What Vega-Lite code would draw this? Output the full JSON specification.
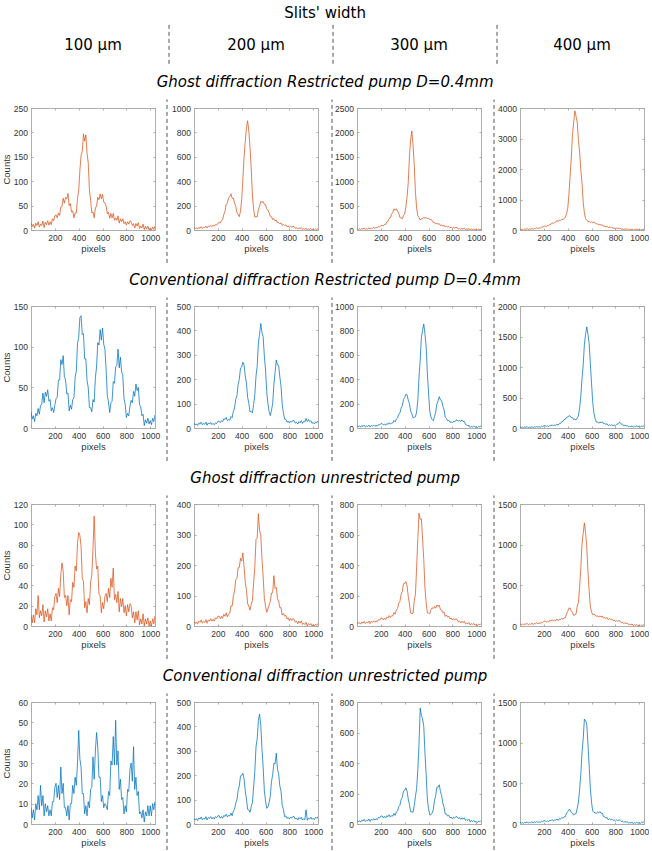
{
  "$schema": "https://vega.github.io/schema/vega-lite/v6.json",
  "background": "white",
  "padding": {"left": 1, "right": 0, "top": 6, "bottom": 0},
  "title": {"text": "Slits' width", "fontStyle": "normal", "offset": 2},
  "spacing": 8,
  "vconcat": [
    {
      "spacing": 0, "bounds": "flush",
      "hconcat": [
        {"width": 124, "height": 43, "view": {"stroke": null}, "data": {"values": [{"t": "100 µm"}]}, "mark": {"type": "text", "font": "DejaVu Sans", "fontSize": 15, "color": "#000000"}, "encoding": {"text": {"field": "t"}}},
        {"width": 39, "height": 43, "view": {"stroke": null}, "data": {"values": [{}]}, "mark": {"type": "rule", "color": "#555555", "strokeWidth": 1, "strokeDash": [4, 3]}, "encoding": {"x": {"datum": 14, "type": "quantitative", "scale": {"domain": [0, 39]}, "axis": null}, "y": {"datum": 0.05, "type": "quantitative", "scale": {"domain": [0, 1]}, "axis": null}, "y2": {"datum": 0.98}}},
        {"width": 124, "height": 43, "view": {"stroke": null}, "data": {"values": [{"t": "200 µm"}]}, "mark": {"type": "text", "font": "DejaVu Sans", "fontSize": 15, "color": "#000000"}, "encoding": {"text": {"field": "t"}}},
        {"width": 39, "height": 43, "view": {"stroke": null}, "data": {"values": [{}]}, "mark": {"type": "rule", "color": "#555555", "strokeWidth": 1, "strokeDash": [4, 3]}, "encoding": {"x": {"datum": 15, "type": "quantitative", "scale": {"domain": [0, 39]}, "axis": null}, "y": {"datum": 0.05, "type": "quantitative", "scale": {"domain": [0, 1]}, "axis": null}, "y2": {"datum": 0.98}}},
        {"width": 124, "height": 43, "view": {"stroke": null}, "data": {"values": [{"t": "300 µm"}]}, "mark": {"type": "text", "font": "DejaVu Sans", "fontSize": 15, "color": "#000000"}, "encoding": {"text": {"field": "t"}}},
        {"width": 39, "height": 43, "view": {"stroke": null}, "data": {"values": [{}]}, "mark": {"type": "rule", "color": "#555555", "strokeWidth": 1, "strokeDash": [4, 3]}, "encoding": {"x": {"datum": 16, "type": "quantitative", "scale": {"domain": [0, 39]}, "axis": null}, "y": {"datum": 0.05, "type": "quantitative", "scale": {"domain": [0, 1]}, "axis": null}, "y2": {"datum": 0.98}}},
        {"width": 124, "height": 43, "view": {"stroke": null}, "data": {"values": [{"t": "400 µm"}]}, "mark": {"type": "text", "font": "DejaVu Sans", "fontSize": 15, "color": "#000000"}, "encoding": {"text": {"field": "t"}}}
      ]
    },
    {
      "title": {"text": "Ghost diffraction Restricted pump D=0.4mm", "fontStyle": "italic"},
      "spacing": 0, "bounds": "flush",
      "hconcat": [
        {"width": 124, "height": 122, "data": {"name": "a1"}, "layer": [
          {"mark": {"type": "line", "color": "#D95319", "strokeWidth": 0.75, "clip": true}, "encoding": {"x": {"field": "x", "type": "quantitative", "scale": {"domain": [0, 1040], "nice": false}, "axis": {"values": [200, 400, 600, 800, 1000], "title": "pixels"}}, "y": {"field": "y", "type": "quantitative", "scale": {"domain": [0, 250], "nice": false}, "axis": {"values": [0, 50, 100, 150, 200, 250], "title": "Counts", "minExtent": 18, "maxExtent": 18}}}},
          {"mark": {"type": "line", "opacity": 0}, "encoding": {"x": {"field": "x", "type": "quantitative", "axis": {"orient": "top", "values": [200, 400, 600, 800, 1000], "labels": false, "title": null}}, "y": {"field": "y", "type": "quantitative", "axis": {"orient": "right", "values": [0, 50, 100, 150, 200, 250], "labels": false, "title": null}}}}
        ], "resolve": {"axis": {"x": "independent", "y": "independent"}}},
        {"width": 39, "height": 122, "view": {"stroke": null}, "data": {"values": [{}]}, "mark": {"type": "rule", "color": "#555555", "strokeWidth": 1, "strokeDash": [4, 3]}, "encoding": {"x": {"datum": 12, "type": "quantitative", "scale": {"domain": [0, 39]}, "axis": null}, "y": {"datum": -0.27, "type": "quantitative", "scale": {"domain": [0, 1]}, "axis": null}, "y2": {"datum": 1.07}}},
        {"width": 124, "height": 122, "data": {"name": "a2"}, "layer": [
          {"mark": {"type": "line", "color": "#D95319", "strokeWidth": 0.75, "clip": true}, "encoding": {"x": {"field": "x", "type": "quantitative", "scale": {"domain": [0, 1040], "nice": false}, "axis": {"values": [200, 400, 600, 800, 1000], "title": "pixels"}}, "y": {"field": "y", "type": "quantitative", "scale": {"domain": [0, 1000], "nice": false}, "axis": {"values": [0, 200, 400, 600, 800, 1000], "title": null}}}},
          {"mark": {"type": "line", "opacity": 0}, "encoding": {"x": {"field": "x", "type": "quantitative", "axis": {"orient": "top", "values": [200, 400, 600, 800, 1000], "labels": false, "title": null}}, "y": {"field": "y", "type": "quantitative", "axis": {"orient": "right", "values": [0, 200, 400, 600, 800, 1000], "labels": false, "title": null}}}}
        ], "resolve": {"axis": {"x": "independent", "y": "independent"}}},
        {"width": 39, "height": 122, "view": {"stroke": null}, "data": {"values": [{}]}, "mark": {"type": "rule", "color": "#555555", "strokeWidth": 1, "strokeDash": [4, 3]}, "encoding": {"x": {"datum": 14, "type": "quantitative", "scale": {"domain": [0, 39]}, "axis": null}, "y": {"datum": -0.27, "type": "quantitative", "scale": {"domain": [0, 1]}, "axis": null}, "y2": {"datum": 1.07}}},
        {"width": 124, "height": 122, "data": {"name": "a3"}, "layer": [
          {"mark": {"type": "line", "color": "#D95319", "strokeWidth": 0.75, "clip": true}, "encoding": {"x": {"field": "x", "type": "quantitative", "scale": {"domain": [0, 1040], "nice": false}, "axis": {"values": [200, 400, 600, 800, 1000], "title": "pixels"}}, "y": {"field": "y", "type": "quantitative", "scale": {"domain": [0, 2500], "nice": false}, "axis": {"values": [0, 500, 1000, 1500, 2000, 2500], "title": null}}}},
          {"mark": {"type": "line", "opacity": 0}, "encoding": {"x": {"field": "x", "type": "quantitative", "axis": {"orient": "top", "values": [200, 400, 600, 800, 1000], "labels": false, "title": null}}, "y": {"field": "y", "type": "quantitative", "axis": {"orient": "right", "values": [0, 500, 1000, 1500, 2000, 2500], "labels": false, "title": null}}}}
        ], "resolve": {"axis": {"x": "independent", "y": "independent"}}},
        {"width": 39, "height": 122, "view": {"stroke": null}, "data": {"values": [{}]}, "mark": {"type": "rule", "color": "#555555", "strokeWidth": 1, "strokeDash": [4, 3]}, "encoding": {"x": {"datum": 13, "type": "quantitative", "scale": {"domain": [0, 39]}, "axis": null}, "y": {"datum": -0.27, "type": "quantitative", "scale": {"domain": [0, 1]}, "axis": null}, "y2": {"datum": 1.07}}},
        {"width": 124, "height": 122, "data": {"name": "a4"}, "layer": [
          {"mark": {"type": "line", "color": "#D95319", "strokeWidth": 0.75, "clip": true}, "encoding": {"x": {"field": "x", "type": "quantitative", "scale": {"domain": [0, 1040], "nice": false}, "axis": {"values": [200, 400, 600, 800, 1000], "title": "pixels"}}, "y": {"field": "y", "type": "quantitative", "scale": {"domain": [0, 4000], "nice": false}, "axis": {"values": [0, 1000, 2000, 3000, 4000], "title": null}}}},
          {"mark": {"type": "line", "opacity": 0}, "encoding": {"x": {"field": "x", "type": "quantitative", "axis": {"orient": "top", "values": [200, 400, 600, 800, 1000], "labels": false, "title": null}}, "y": {"field": "y", "type": "quantitative", "axis": {"orient": "right", "values": [0, 1000, 2000, 3000, 4000], "labels": false, "title": null}}}}
        ], "resolve": {"axis": {"x": "independent", "y": "independent"}}}
      ]
    },
    {
      "title": {"text": "Conventional diffraction Restricted pump D=0.4mm", "fontStyle": "italic"},
      "spacing": 0, "bounds": "flush",
      "hconcat": [
        {"width": 124, "height": 122, "data": {"name": "b1"}, "layer": [
          {"mark": {"type": "line", "color": "#0072BD", "strokeWidth": 0.75, "clip": true}, "encoding": {"x": {"field": "x", "type": "quantitative", "scale": {"domain": [0, 1040], "nice": false}, "axis": {"values": [200, 400, 600, 800, 1000], "title": "pixels"}}, "y": {"field": "y", "type": "quantitative", "scale": {"domain": [0, 150], "nice": false}, "axis": {"values": [0, 50, 100, 150], "title": "Counts", "minExtent": 18, "maxExtent": 18}}}},
          {"mark": {"type": "line", "opacity": 0}, "encoding": {"x": {"field": "x", "type": "quantitative", "axis": {"orient": "top", "values": [200, 400, 600, 800, 1000], "labels": false, "title": null}}, "y": {"field": "y", "type": "quantitative", "axis": {"orient": "right", "values": [0, 50, 100, 150], "labels": false, "title": null}}}}
        ], "resolve": {"axis": {"x": "independent", "y": "independent"}}},
        {"width": 39, "height": 122, "view": {"stroke": null}, "data": {"values": [{}]}, "mark": {"type": "rule", "color": "#555555", "strokeWidth": 1, "strokeDash": [4, 3]}, "encoding": {"x": {"datum": 12, "type": "quantitative", "scale": {"domain": [0, 39]}, "axis": null}, "y": {"datum": -0.27, "type": "quantitative", "scale": {"domain": [0, 1]}, "axis": null}, "y2": {"datum": 1.07}}},
        {"width": 124, "height": 122, "data": {"name": "b2"}, "layer": [
          {"mark": {"type": "line", "color": "#0072BD", "strokeWidth": 0.75, "clip": true}, "encoding": {"x": {"field": "x", "type": "quantitative", "scale": {"domain": [0, 1040], "nice": false}, "axis": {"values": [200, 400, 600, 800, 1000], "title": "pixels"}}, "y": {"field": "y", "type": "quantitative", "scale": {"domain": [0, 500], "nice": false}, "axis": {"values": [0, 100, 200, 300, 400, 500], "title": null}}}},
          {"mark": {"type": "line", "opacity": 0}, "encoding": {"x": {"field": "x", "type": "quantitative", "axis": {"orient": "top", "values": [200, 400, 600, 800, 1000], "labels": false, "title": null}}, "y": {"field": "y", "type": "quantitative", "axis": {"orient": "right", "values": [0, 100, 200, 300, 400, 500], "labels": false, "title": null}}}}
        ], "resolve": {"axis": {"x": "independent", "y": "independent"}}},
        {"width": 39, "height": 122, "view": {"stroke": null}, "data": {"values": [{}]}, "mark": {"type": "rule", "color": "#555555", "strokeWidth": 1, "strokeDash": [4, 3]}, "encoding": {"x": {"datum": 14, "type": "quantitative", "scale": {"domain": [0, 39]}, "axis": null}, "y": {"datum": -0.27, "type": "quantitative", "scale": {"domain": [0, 1]}, "axis": null}, "y2": {"datum": 1.07}}},
        {"width": 124, "height": 122, "data": {"name": "b3"}, "layer": [
          {"mark": {"type": "line", "color": "#0072BD", "strokeWidth": 0.75, "clip": true}, "encoding": {"x": {"field": "x", "type": "quantitative", "scale": {"domain": [0, 1040], "nice": false}, "axis": {"values": [200, 400, 600, 800, 1000], "title": "pixels"}}, "y": {"field": "y", "type": "quantitative", "scale": {"domain": [0, 1000], "nice": false}, "axis": {"values": [0, 200, 400, 600, 800, 1000], "title": null}}}},
          {"mark": {"type": "line", "opacity": 0}, "encoding": {"x": {"field": "x", "type": "quantitative", "axis": {"orient": "top", "values": [200, 400, 600, 800, 1000], "labels": false, "title": null}}, "y": {"field": "y", "type": "quantitative", "axis": {"orient": "right", "values": [0, 200, 400, 600, 800, 1000], "labels": false, "title": null}}}}
        ], "resolve": {"axis": {"x": "independent", "y": "independent"}}},
        {"width": 39, "height": 122, "view": {"stroke": null}, "data": {"values": [{}]}, "mark": {"type": "rule", "color": "#555555", "strokeWidth": 1, "strokeDash": [4, 3]}, "encoding": {"x": {"datum": 13, "type": "quantitative", "scale": {"domain": [0, 39]}, "axis": null}, "y": {"datum": -0.27, "type": "quantitative", "scale": {"domain": [0, 1]}, "axis": null}, "y2": {"datum": 1.07}}},
        {"width": 124, "height": 122, "data": {"name": "b4"}, "layer": [
          {"mark": {"type": "line", "color": "#0072BD", "strokeWidth": 0.75, "clip": true}, "encoding": {"x": {"field": "x", "type": "quantitative", "scale": {"domain": [0, 1040], "nice": false}, "axis": {"values": [200, 400, 600, 800, 1000], "title": "pixels"}}, "y": {"field": "y", "type": "quantitative", "scale": {"domain": [0, 2000], "nice": false}, "axis": {"values": [0, 500, 1000, 1500, 2000], "title": null}}}},
          {"mark": {"type": "line", "opacity": 0}, "encoding": {"x": {"field": "x", "type": "quantitative", "axis": {"orient": "top", "values": [200, 400, 600, 800, 1000], "labels": false, "title": null}}, "y": {"field": "y", "type": "quantitative", "axis": {"orient": "right", "values": [0, 500, 1000, 1500, 2000], "labels": false, "title": null}}}}
        ], "resolve": {"axis": {"x": "independent", "y": "independent"}}}
      ]
    },
    {
      "title": {"text": "Ghost diffraction unrestricted pump", "fontStyle": "italic"},
      "spacing": 0, "bounds": "flush",
      "hconcat": [
        {"width": 124, "height": 122, "data": {"name": "c1"}, "layer": [
          {"mark": {"type": "line", "color": "#D95319", "strokeWidth": 0.75, "clip": true}, "encoding": {"x": {"field": "x", "type": "quantitative", "scale": {"domain": [0, 1040], "nice": false}, "axis": {"values": [200, 400, 600, 800, 1000], "title": "pixels"}}, "y": {"field": "y", "type": "quantitative", "scale": {"domain": [0, 120], "nice": false}, "axis": {"values": [0, 20, 40, 60, 80, 100, 120], "title": "Counts", "minExtent": 18, "maxExtent": 18}}}},
          {"mark": {"type": "line", "opacity": 0}, "encoding": {"x": {"field": "x", "type": "quantitative", "axis": {"orient": "top", "values": [200, 400, 600, 800, 1000], "labels": false, "title": null}}, "y": {"field": "y", "type": "quantitative", "axis": {"orient": "right", "values": [0, 20, 40, 60, 80, 100, 120], "labels": false, "title": null}}}}
        ], "resolve": {"axis": {"x": "independent", "y": "independent"}}},
        {"width": 39, "height": 122, "view": {"stroke": null}, "data": {"values": [{}]}, "mark": {"type": "rule", "color": "#555555", "strokeWidth": 1, "strokeDash": [4, 3]}, "encoding": {"x": {"datum": 12, "type": "quantitative", "scale": {"domain": [0, 39]}, "axis": null}, "y": {"datum": -0.27, "type": "quantitative", "scale": {"domain": [0, 1]}, "axis": null}, "y2": {"datum": 1.07}}},
        {"width": 124, "height": 122, "data": {"name": "c2"}, "layer": [
          {"mark": {"type": "line", "color": "#D95319", "strokeWidth": 0.75, "clip": true}, "encoding": {"x": {"field": "x", "type": "quantitative", "scale": {"domain": [0, 1040], "nice": false}, "axis": {"values": [200, 400, 600, 800, 1000], "title": "pixels"}}, "y": {"field": "y", "type": "quantitative", "scale": {"domain": [0, 400], "nice": false}, "axis": {"values": [0, 100, 200, 300, 400], "title": null}}}},
          {"mark": {"type": "line", "opacity": 0}, "encoding": {"x": {"field": "x", "type": "quantitative", "axis": {"orient": "top", "values": [200, 400, 600, 800, 1000], "labels": false, "title": null}}, "y": {"field": "y", "type": "quantitative", "axis": {"orient": "right", "values": [0, 100, 200, 300, 400], "labels": false, "title": null}}}}
        ], "resolve": {"axis": {"x": "independent", "y": "independent"}}},
        {"width": 39, "height": 122, "view": {"stroke": null}, "data": {"values": [{}]}, "mark": {"type": "rule", "color": "#555555", "strokeWidth": 1, "strokeDash": [4, 3]}, "encoding": {"x": {"datum": 14, "type": "quantitative", "scale": {"domain": [0, 39]}, "axis": null}, "y": {"datum": -0.27, "type": "quantitative", "scale": {"domain": [0, 1]}, "axis": null}, "y2": {"datum": 1.07}}},
        {"width": 124, "height": 122, "data": {"name": "c3"}, "layer": [
          {"mark": {"type": "line", "color": "#D95319", "strokeWidth": 0.75, "clip": true}, "encoding": {"x": {"field": "x", "type": "quantitative", "scale": {"domain": [0, 1040], "nice": false}, "axis": {"values": [200, 400, 600, 800, 1000], "title": "pixels"}}, "y": {"field": "y", "type": "quantitative", "scale": {"domain": [0, 800], "nice": false}, "axis": {"values": [0, 200, 400, 600, 800], "title": null}}}},
          {"mark": {"type": "line", "opacity": 0}, "encoding": {"x": {"field": "x", "type": "quantitative", "axis": {"orient": "top", "values": [200, 400, 600, 800, 1000], "labels": false, "title": null}}, "y": {"field": "y", "type": "quantitative", "axis": {"orient": "right", "values": [0, 200, 400, 600, 800], "labels": false, "title": null}}}}
        ], "resolve": {"axis": {"x": "independent", "y": "independent"}}},
        {"width": 39, "height": 122, "view": {"stroke": null}, "data": {"values": [{}]}, "mark": {"type": "rule", "color": "#555555", "strokeWidth": 1, "strokeDash": [4, 3]}, "encoding": {"x": {"datum": 13, "type": "quantitative", "scale": {"domain": [0, 39]}, "axis": null}, "y": {"datum": -0.27, "type": "quantitative", "scale": {"domain": [0, 1]}, "axis": null}, "y2": {"datum": 1.07}}},
        {"width": 124, "height": 122, "data": {"name": "c4"}, "layer": [
          {"mark": {"type": "line", "color": "#D95319", "strokeWidth": 0.75, "clip": true}, "encoding": {"x": {"field": "x", "type": "quantitative", "scale": {"domain": [0, 1040], "nice": false}, "axis": {"values": [200, 400, 600, 800, 1000], "title": "pixels"}}, "y": {"field": "y", "type": "quantitative", "scale": {"domain": [0, 1500], "nice": false}, "axis": {"values": [0, 500, 1000, 1500], "title": null}}}},
          {"mark": {"type": "line", "opacity": 0}, "encoding": {"x": {"field": "x", "type": "quantitative", "axis": {"orient": "top", "values": [200, 400, 600, 800, 1000], "labels": false, "title": null}}, "y": {"field": "y", "type": "quantitative", "axis": {"orient": "right", "values": [0, 500, 1000, 1500], "labels": false, "title": null}}}}
        ], "resolve": {"axis": {"x": "independent", "y": "independent"}}}
      ]
    },
    {
      "title": {"text": "Conventional diffraction unrestricted pump", "fontStyle": "italic"},
      "spacing": 0, "bounds": "flush",
      "hconcat": [
        {"width": 124, "height": 122, "data": {"name": "d1"}, "layer": [
          {"mark": {"type": "line", "color": "#0072BD", "strokeWidth": 0.75, "clip": true}, "encoding": {"x": {"field": "x", "type": "quantitative", "scale": {"domain": [0, 1040], "nice": false}, "axis": {"values": [200, 400, 600, 800, 1000], "title": "pixels"}}, "y": {"field": "y", "type": "quantitative", "scale": {"domain": [0, 60], "nice": false}, "axis": {"values": [0, 10, 20, 30, 40, 50, 60], "title": "Counts", "minExtent": 18, "maxExtent": 18}}}},
          {"mark": {"type": "line", "opacity": 0}, "encoding": {"x": {"field": "x", "type": "quantitative", "axis": {"orient": "top", "values": [200, 400, 600, 800, 1000], "labels": false, "title": null}}, "y": {"field": "y", "type": "quantitative", "axis": {"orient": "right", "values": [0, 10, 20, 30, 40, 50, 60], "labels": false, "title": null}}}}
        ], "resolve": {"axis": {"x": "independent", "y": "independent"}}},
        {"width": 39, "height": 122, "view": {"stroke": null}, "data": {"values": [{}]}, "mark": {"type": "rule", "color": "#555555", "strokeWidth": 1, "strokeDash": [4, 3]}, "encoding": {"x": {"datum": 12, "type": "quantitative", "scale": {"domain": [0, 39]}, "axis": null}, "y": {"datum": -0.27, "type": "quantitative", "scale": {"domain": [0, 1]}, "axis": null}, "y2": {"datum": 1.07}}},
        {"width": 124, "height": 122, "data": {"name": "d2"}, "layer": [
          {"mark": {"type": "line", "color": "#0072BD", "strokeWidth": 0.75, "clip": true}, "encoding": {"x": {"field": "x", "type": "quantitative", "scale": {"domain": [0, 1040], "nice": false}, "axis": {"values": [200, 400, 600, 800, 1000], "title": "pixels"}}, "y": {"field": "y", "type": "quantitative", "scale": {"domain": [0, 500], "nice": false}, "axis": {"values": [0, 100, 200, 300, 400, 500], "title": null}}}},
          {"mark": {"type": "line", "opacity": 0}, "encoding": {"x": {"field": "x", "type": "quantitative", "axis": {"orient": "top", "values": [200, 400, 600, 800, 1000], "labels": false, "title": null}}, "y": {"field": "y", "type": "quantitative", "axis": {"orient": "right", "values": [0, 100, 200, 300, 400, 500], "labels": false, "title": null}}}}
        ], "resolve": {"axis": {"x": "independent", "y": "independent"}}},
        {"width": 39, "height": 122, "view": {"stroke": null}, "data": {"values": [{}]}, "mark": {"type": "rule", "color": "#555555", "strokeWidth": 1, "strokeDash": [4, 3]}, "encoding": {"x": {"datum": 14, "type": "quantitative", "scale": {"domain": [0, 39]}, "axis": null}, "y": {"datum": -0.27, "type": "quantitative", "scale": {"domain": [0, 1]}, "axis": null}, "y2": {"datum": 1.07}}},
        {"width": 124, "height": 122, "data": {"name": "d3"}, "layer": [
          {"mark": {"type": "line", "color": "#0072BD", "strokeWidth": 0.75, "clip": true}, "encoding": {"x": {"field": "x", "type": "quantitative", "scale": {"domain": [0, 1040], "nice": false}, "axis": {"values": [200, 400, 600, 800, 1000], "title": "pixels"}}, "y": {"field": "y", "type": "quantitative", "scale": {"domain": [0, 800], "nice": false}, "axis": {"values": [0, 200, 400, 600, 800], "title": null}}}},
          {"mark": {"type": "line", "opacity": 0}, "encoding": {"x": {"field": "x", "type": "quantitative", "axis": {"orient": "top", "values": [200, 400, 600, 800, 1000], "labels": false, "title": null}}, "y": {"field": "y", "type": "quantitative", "axis": {"orient": "right", "values": [0, 200, 400, 600, 800], "labels": false, "title": null}}}}
        ], "resolve": {"axis": {"x": "independent", "y": "independent"}}},
        {"width": 39, "height": 122, "view": {"stroke": null}, "data": {"values": [{}]}, "mark": {"type": "rule", "color": "#555555", "strokeWidth": 1, "strokeDash": [4, 3]}, "encoding": {"x": {"datum": 13, "type": "quantitative", "scale": {"domain": [0, 39]}, "axis": null}, "y": {"datum": -0.27, "type": "quantitative", "scale": {"domain": [0, 1]}, "axis": null}, "y2": {"datum": 1.07}}},
        {"width": 124, "height": 122, "data": {"name": "d4"}, "layer": [
          {"mark": {"type": "line", "color": "#0072BD", "strokeWidth": 0.75, "clip": true}, "encoding": {"x": {"field": "x", "type": "quantitative", "scale": {"domain": [0, 1040], "nice": false}, "axis": {"values": [200, 400, 600, 800, 1000], "title": "pixels"}}, "y": {"field": "y", "type": "quantitative", "scale": {"domain": [0, 1500], "nice": false}, "axis": {"values": [0, 500, 1000, 1500], "title": null}}}},
          {"mark": {"type": "line", "opacity": 0}, "encoding": {"x": {"field": "x", "type": "quantitative", "axis": {"orient": "top", "values": [200, 400, 600, 800, 1000], "labels": false, "title": null}}, "y": {"field": "y", "type": "quantitative", "axis": {"orient": "right", "values": [0, 500, 1000, 1500], "labels": false, "title": null}}}}
        ], "resolve": {"axis": {"x": "independent", "y": "independent"}}}
      ]
    }
  ],
  "datasets": {
    "a1": [{"x":0,"y":15},{"x":10,"y":7},{"x":20,"y":12},{"x":30,"y":4},{"x":40,"y":14},{"x":50,"y":9},{"x":60,"y":17},{"x":70,"y":6},{"x":80,"y":12},{"x":90,"y":9},{"x":100,"y":18},{"x":110,"y":5},{"x":120,"y":16},{"x":130,"y":11},{"x":140,"y":19},{"x":150,"y":10},{"x":160,"y":17},{"x":170,"y":11},{"x":180,"y":23},{"x":190,"y":19},{"x":200,"y":29},{"x":210,"y":31},{"x":220,"y":25},{"x":230,"y":35},{"x":240,"y":30},{"x":250,"y":47},{"x":260,"y":48},{"x":270,"y":65},{"x":280,"y":55},{"x":290,"y":67},{"x":300,"y":64},{"x":310,"y":75},{"x":320,"y":50},{"x":330,"y":54},{"x":340,"y":37},{"x":350,"y":39},{"x":360,"y":25},{"x":370,"y":35},{"x":380,"y":35},{"x":390,"y":65},{"x":400,"y":81},{"x":410,"y":122},{"x":420,"y":152},{"x":430,"y":162},{"x":440,"y":197},{"x":450,"y":182},{"x":460,"y":195},{"x":470,"y":157},{"x":480,"y":138},{"x":490,"y":82},{"x":500,"y":61},{"x":510,"y":35},{"x":520,"y":37},{"x":530,"y":25},{"x":540,"y":45},{"x":550,"y":49},{"x":560,"y":67},{"x":570,"y":62},{"x":580,"y":74},{"x":590,"y":64},{"x":600,"y":73},{"x":610,"y":57},{"x":620,"y":56},{"x":630,"y":49},{"x":640,"y":33},{"x":650,"y":36},{"x":660,"y":24},{"x":670,"y":34},{"x":680,"y":25},{"x":690,"y":34},{"x":700,"y":20},{"x":710,"y":25},{"x":720,"y":20},{"x":730,"y":29},{"x":740,"y":14},{"x":750,"y":23},{"x":760,"y":17},{"x":770,"y":23},{"x":780,"y":13},{"x":790,"y":17},{"x":800,"y":10},{"x":810,"y":17},{"x":820,"y":12},{"x":830,"y":19},{"x":840,"y":17},{"x":850,"y":9},{"x":860,"y":13},{"x":870,"y":4},{"x":880,"y":13},{"x":890,"y":8},{"x":900,"y":15},{"x":910,"y":3},{"x":920,"y":8},{"x":930,"y":4},{"x":940,"y":12},{"x":950,"y":1},{"x":960,"y":8},{"x":970,"y":2},{"x":980,"y":8},{"x":990,"y":0},{"x":1000,"y":4},{"x":1010,"y":0},{"x":1020,"y":6},{"x":1030,"y":1},{"x":1040,"y":8}],
    "a2": [{"x":0,"y":22},{"x":10,"y":11},{"x":20,"y":18},{"x":30,"y":7},{"x":40,"y":21},{"x":50,"y":15},{"x":60,"y":27},{"x":70,"y":13},{"x":80,"y":21},{"x":90,"y":19},{"x":100,"y":32},{"x":110,"y":17},{"x":120,"y":32},{"x":130,"y":27},{"x":140,"y":38},{"x":150,"y":29},{"x":160,"y":38},{"x":170,"y":31},{"x":180,"y":45},{"x":190,"y":41},{"x":200,"y":54},{"x":210,"y":60},{"x":220,"y":57},{"x":230,"y":78},{"x":240,"y":85},{"x":250,"y":127},{"x":260,"y":153},{"x":270,"y":209},{"x":280,"y":224},{"x":290,"y":264},{"x":300,"y":272},{"x":310,"y":297},{"x":320,"y":259},{"x":330,"y":261},{"x":340,"y":221},{"x":350,"y":195},{"x":360,"y":143},{"x":370,"y":127},{"x":380,"y":109},{"x":390,"y":156},{"x":400,"y":248},{"x":410,"y":419},{"x":420,"y":600},{"x":430,"y":725},{"x":440,"y":840},{"x":450,"y":895},{"x":460,"y":810},{"x":470,"y":674},{"x":480,"y":502},{"x":490,"y":288},{"x":500,"y":171},{"x":510,"y":106},{"x":520,"y":110},{"x":530,"y":108},{"x":540,"y":165},{"x":550,"y":196},{"x":560,"y":235},{"x":570,"y":226},{"x":580,"y":235},{"x":590,"y":210},{"x":600,"y":207},{"x":610,"y":174},{"x":620,"y":162},{"x":630,"y":142},{"x":640,"y":112},{"x":650,"y":108},{"x":660,"y":85},{"x":670,"y":92},{"x":680,"y":76},{"x":690,"y":82},{"x":700,"y":59},{"x":710,"y":61},{"x":720,"y":51},{"x":730,"y":59},{"x":740,"y":37},{"x":750,"y":46},{"x":760,"y":35},{"x":770,"y":41},{"x":780,"y":27},{"x":790,"y":32},{"x":800,"y":21},{"x":810,"y":30},{"x":820,"y":23},{"x":830,"y":30},{"x":840,"y":27},{"x":850,"y":14},{"x":860,"y":19},{"x":870,"y":7},{"x":880,"y":19},{"x":890,"y":11},{"x":900,"y":20},{"x":910,"y":5},{"x":920,"y":11},{"x":930,"y":6},{"x":940,"y":15},{"x":950,"y":0},{"x":960,"y":10},{"x":970,"y":4},{"x":980,"y":12},{"x":990,"y":1},{"x":1000,"y":7},{"x":1010,"y":0},{"x":1020,"y":9},{"x":1030,"y":3},{"x":1040,"y":12}],
    "a3": [{"x":0,"y":32},{"x":10,"y":12},{"x":20,"y":25},{"x":30,"y":6},{"x":40,"y":30},{"x":50,"y":19},{"x":60,"y":39},{"x":70,"y":13},{"x":80,"y":27},{"x":90,"y":21},{"x":100,"y":44},{"x":110,"y":16},{"x":120,"y":41},{"x":130,"y":33},{"x":140,"y":53},{"x":150,"y":36},{"x":160,"y":53},{"x":170,"y":42},{"x":180,"y":68},{"x":190,"y":64},{"x":200,"y":88},{"x":210,"y":96},{"x":220,"y":86},{"x":230,"y":115},{"x":240,"y":114},{"x":250,"y":166},{"x":260,"y":181},{"x":270,"y":241},{"x":280,"y":255},{"x":290,"y":322},{"x":300,"y":360},{"x":310,"y":433},{"x":320,"y":404},{"x":330,"y":435},{"x":340,"y":383},{"x":350,"y":346},{"x":360,"y":257},{"x":370,"y":244},{"x":380,"y":228},{"x":390,"y":301},{"x":400,"y":328},{"x":410,"y":475},{"x":420,"y":675},{"x":430,"y":980},{"x":440,"y":1516},{"x":450,"y":1844},{"x":460,"y":2029},{"x":470,"y":1738},{"x":480,"y":1348},{"x":490,"y":776},{"x":500,"y":453},{"x":510,"y":291},{"x":520,"y":259},{"x":530,"y":204},{"x":540,"y":233},{"x":550,"y":229},{"x":560,"y":260},{"x":570,"y":239},{"x":580,"y":256},{"x":590,"y":228},{"x":600,"y":240},{"x":610,"y":210},{"x":620,"y":214},{"x":630,"y":194},{"x":640,"y":153},{"x":650,"y":156},{"x":660,"y":123},{"x":670,"y":141},{"x":680,"y":116},{"x":690,"y":130},{"x":700,"y":93},{"x":710,"y":100},{"x":720,"y":83},{"x":730,"y":99},{"x":740,"y":61},{"x":750,"y":79},{"x":760,"y":62},{"x":770,"y":74},{"x":780,"y":47},{"x":790,"y":56},{"x":800,"y":36},{"x":810,"y":53},{"x":820,"y":39},{"x":830,"y":53},{"x":840,"y":48},{"x":850,"y":24},{"x":860,"y":34},{"x":870,"y":13},{"x":880,"y":34},{"x":890,"y":20},{"x":900,"y":37},{"x":910,"y":8},{"x":920,"y":20},{"x":930,"y":10},{"x":940,"y":29},{"x":950,"y":0},{"x":960,"y":19},{"x":970,"y":7},{"x":980,"y":22},{"x":990,"y":1},{"x":1000,"y":13},{"x":1010,"y":0},{"x":1020,"y":17},{"x":1030,"y":6},{"x":1040,"y":22}],
    "a4": [{"x":0,"y":36},{"x":10,"y":10},{"x":20,"y":26},{"x":30,"y":2},{"x":40,"y":34},{"x":50,"y":20},{"x":60,"y":47},{"x":70,"y":14},{"x":80,"y":32},{"x":90,"y":25},{"x":100,"y":55},{"x":110,"y":19},{"x":120,"y":53},{"x":130,"y":44},{"x":140,"y":71},{"x":150,"y":49},{"x":160,"y":74},{"x":170,"y":61},{"x":180,"y":97},{"x":190,"y":93},{"x":200,"y":126},{"x":210,"y":133},{"x":220,"y":114},{"x":230,"y":147},{"x":240,"y":134},{"x":250,"y":184},{"x":260,"y":185},{"x":270,"y":234},{"x":280,"y":213},{"x":290,"y":253},{"x":300,"y":260},{"x":310,"y":313},{"x":320,"y":279},{"x":330,"y":326},{"x":340,"y":317},{"x":350,"y":354},{"x":360,"y":334},{"x":370,"y":386},{"x":380,"y":407},{"x":390,"y":535},{"x":400,"y":697},{"x":410,"y":1140},{"x":420,"y":1743},{"x":430,"y":2366},{"x":440,"y":3125},{"x":450,"y":3517},{"x":460,"y":3908},{"x":470,"y":3731},{"x":480,"y":3539},{"x":490,"y":2944},{"x":500,"y":2557},{"x":510,"y":1976},{"x":520,"y":1545},{"x":530,"y":911},{"x":540,"y":562},{"x":550,"y":372},{"x":560,"y":328},{"x":570,"y":270},{"x":580,"y":280},{"x":590,"y":245},{"x":600,"y":268},{"x":610,"y":243},{"x":620,"y":259},{"x":630,"y":242},{"x":640,"y":198},{"x":650,"y":205},{"x":660,"y":164},{"x":670,"y":186},{"x":680,"y":155},{"x":690,"y":171},{"x":700,"y":119},{"x":710,"y":127},{"x":720,"y":106},{"x":730,"y":125},{"x":740,"y":74},{"x":750,"y":97},{"x":760,"y":74},{"x":770,"y":88},{"x":780,"y":53},{"x":790,"y":64},{"x":800,"y":38},{"x":810,"y":61},{"x":820,"y":43},{"x":830,"y":61},{"x":840,"y":54},{"x":850,"y":24},{"x":860,"y":37},{"x":870,"y":10},{"x":880,"y":38},{"x":890,"y":20},{"x":900,"y":42},{"x":910,"y":6},{"x":920,"y":21},{"x":930,"y":10},{"x":940,"y":35},{"x":950,"y":0},{"x":960,"y":23},{"x":970,"y":8},{"x":980,"y":27},{"x":990,"y":0},{"x":1000,"y":16},{"x":1010,"y":0},{"x":1020,"y":21},{"x":1030,"y":8},{"x":1040,"y":29}],
    "b1": [{"x":0,"y":20},{"x":10,"y":11},{"x":20,"y":15},{"x":30,"y":8},{"x":40,"y":18},{"x":50,"y":15},{"x":60,"y":24},{"x":70,"y":17},{"x":80,"y":28},{"x":90,"y":29},{"x":100,"y":43},{"x":110,"y":31},{"x":120,"y":44},{"x":130,"y":39},{"x":140,"y":47},{"x":150,"y":33},{"x":160,"y":35},{"x":170,"y":21},{"x":180,"y":25},{"x":190,"y":19},{"x":200,"y":28},{"x":210,"y":36},{"x":220,"y":38},{"x":230,"y":59},{"x":240,"y":59},{"x":250,"y":84},{"x":260,"y":78},{"x":270,"y":89},{"x":280,"y":63},{"x":290,"y":59},{"x":300,"y":42},{"x":310,"y":43},{"x":320,"y":21},{"x":330,"y":28},{"x":340,"y":23},{"x":350,"y":35},{"x":360,"y":37},{"x":370,"y":62},{"x":380,"y":70},{"x":390,"y":104},{"x":400,"y":111},{"x":410,"y":136},{"x":420,"y":138},{"x":430,"y":115},{"x":440,"y":116},{"x":450,"y":85},{"x":460,"y":85},{"x":470,"y":58},{"x":480,"y":50},{"x":490,"y":25},{"x":500,"y":25},{"x":510,"y":20},{"x":520,"y":35},{"x":530,"y":32},{"x":540,"y":62},{"x":550,"y":75},{"x":560,"y":105},{"x":570,"y":102},{"x":580,"y":121},{"x":590,"y":108},{"x":600,"y":123},{"x":610,"y":103},{"x":620,"y":97},{"x":630,"y":72},{"x":640,"y":40},{"x":650,"y":32},{"x":660,"y":19},{"x":670,"y":31},{"x":680,"y":33},{"x":690,"y":57},{"x":700,"y":55},{"x":710,"y":75},{"x":720,"y":77},{"x":730,"y":97},{"x":740,"y":74},{"x":750,"y":87},{"x":760,"y":69},{"x":770,"y":65},{"x":780,"y":36},{"x":790,"y":29},{"x":800,"y":13},{"x":810,"y":18},{"x":820,"y":15},{"x":830,"y":27},{"x":840,"y":34},{"x":850,"y":31},{"x":860,"y":45},{"x":870,"y":39},{"x":880,"y":54},{"x":890,"y":46},{"x":900,"y":50},{"x":910,"y":29},{"x":920,"y":26},{"x":930,"y":15},{"x":940,"y":17},{"x":950,"y":3},{"x":960,"y":10},{"x":970,"y":6},{"x":980,"y":12},{"x":990,"y":5},{"x":1000,"y":9},{"x":1010,"y":4},{"x":1020,"y":12},{"x":1030,"y":8},{"x":1040,"y":16}],
    "b2": [{"x":0,"y":20},{"x":10,"y":12},{"x":20,"y":17},{"x":30,"y":10},{"x":40,"y":20},{"x":50,"y":16},{"x":60,"y":24},{"x":70,"y":13},{"x":80,"y":19},{"x":90,"y":15},{"x":100,"y":24},{"x":110,"y":11},{"x":120,"y":21},{"x":130,"y":16},{"x":140,"y":23},{"x":150,"y":14},{"x":160,"y":19},{"x":170,"y":13},{"x":180,"y":21},{"x":190,"y":18},{"x":200,"y":27},{"x":210,"y":28},{"x":220,"y":22},{"x":230,"y":30},{"x":240,"y":26},{"x":250,"y":38},{"x":260,"y":35},{"x":270,"y":43},{"x":280,"y":30},{"x":290,"y":34},{"x":300,"y":32},{"x":310,"y":47},{"x":320,"y":42},{"x":330,"y":68},{"x":340,"y":82},{"x":350,"y":117},{"x":360,"y":133},{"x":370,"y":178},{"x":380,"y":199},{"x":390,"y":246},{"x":400,"y":250},{"x":410,"y":270},{"x":420,"y":258},{"x":430,"y":213},{"x":440,"y":184},{"x":450,"y":125},{"x":460,"y":101},{"x":470,"y":66},{"x":480,"y":68},{"x":490,"y":62},{"x":500,"y":96},{"x":510,"y":135},{"x":520,"y":213},{"x":530,"y":253},{"x":540,"y":348},{"x":550,"y":384},{"x":560,"y":428},{"x":570,"y":392},{"x":580,"y":374},{"x":590,"y":295},{"x":600,"y":238},{"x":610,"y":149},{"x":620,"y":99},{"x":630,"y":67},{"x":640,"y":51},{"x":650,"y":73},{"x":660,"y":101},{"x":670,"y":178},{"x":680,"y":227},{"x":690,"y":279},{"x":700,"y":258},{"x":710,"y":257},{"x":720,"y":209},{"x":730,"y":171},{"x":740,"y":95},{"x":750,"y":63},{"x":760,"y":36},{"x":770,"y":35},{"x":780,"y":24},{"x":790,"y":28},{"x":800,"y":20},{"x":810,"y":29},{"x":820,"y":24},{"x":830,"y":31},{"x":840,"y":30},{"x":850,"y":20},{"x":860,"y":24},{"x":870,"y":16},{"x":880,"y":26},{"x":890,"y":21},{"x":900,"y":30},{"x":910,"y":19},{"x":920,"y":27},{"x":930,"y":25},{"x":940,"y":39},{"x":950,"y":27},{"x":960,"y":35},{"x":970,"y":26},{"x":980,"y":30},{"x":990,"y":19},{"x":1000,"y":23},{"x":1010,"y":17},{"x":1020,"y":25},{"x":1030,"y":21},{"x":1040,"y":29}],
    "b3": [{"x":0,"y":22},{"x":10,"y":11},{"x":20,"y":18},{"x":30,"y":7},{"x":40,"y":20},{"x":50,"y":13},{"x":60,"y":24},{"x":70,"y":9},{"x":80,"y":16},{"x":90,"y":12},{"x":100,"y":24},{"x":110,"y":8},{"x":120,"y":20},{"x":130,"y":15},{"x":140,"y":24},{"x":150,"y":14},{"x":160,"y":22},{"x":170,"y":15},{"x":180,"y":28},{"x":190,"y":25},{"x":200,"y":36},{"x":210,"y":36},{"x":220,"y":26},{"x":230,"y":33},{"x":240,"y":22},{"x":250,"y":36},{"x":260,"y":30},{"x":270,"y":43},{"x":280,"y":31},{"x":290,"y":41},{"x":300,"y":41},{"x":310,"y":61},{"x":320,"y":50},{"x":330,"y":74},{"x":340,"y":82},{"x":350,"y":113},{"x":360,"y":123},{"x":370,"y":163},{"x":380,"y":184},{"x":390,"y":235},{"x":400,"y":250},{"x":410,"y":277},{"x":420,"y":271},{"x":430,"y":228},{"x":440,"y":199},{"x":450,"y":139},{"x":460,"y":117},{"x":470,"y":83},{"x":480,"y":88},{"x":490,"y":92},{"x":500,"y":131},{"x":510,"y":224},{"x":520,"y":418},{"x":530,"y":555},{"x":540,"y":742},{"x":550,"y":800},{"x":560,"y":853},{"x":570,"y":771},{"x":580,"y":666},{"x":590,"y":452},{"x":600,"y":288},{"x":610,"y":139},{"x":620,"y":90},{"x":630,"y":70},{"x":640,"y":60},{"x":650,"y":93},{"x":660,"y":129},{"x":670,"y":198},{"x":680,"y":222},{"x":690,"y":257},{"x":700,"y":229},{"x":710,"y":224},{"x":720,"y":180},{"x":730,"y":151},{"x":740,"y":89},{"x":750,"y":79},{"x":760,"y":59},{"x":770,"y":63},{"x":780,"y":46},{"x":790,"y":52},{"x":800,"y":42},{"x":810,"y":55},{"x":820,"y":51},{"x":830,"y":64},{"x":840,"y":66},{"x":850,"y":55},{"x":860,"y":65},{"x":870,"y":53},{"x":880,"y":66},{"x":890,"y":53},{"x":900,"y":54},{"x":910,"y":29},{"x":920,"y":26},{"x":930,"y":15},{"x":940,"y":22},{"x":950,"y":4},{"x":960,"y":14},{"x":970,"y":8},{"x":980,"y":16},{"x":990,"y":5},{"x":1000,"y":12},{"x":1010,"y":3},{"x":1020,"y":14},{"x":1030,"y":9},{"x":1040,"y":18}],
    "b4": [{"x":0,"y":20},{"x":10,"y":4},{"x":20,"y":14},{"x":30,"y":1},{"x":40,"y":18},{"x":50,"y":9},{"x":60,"y":24},{"x":70,"y":3},{"x":80,"y":14},{"x":90,"y":8},{"x":100,"y":25},{"x":110,"y":3},{"x":120,"y":21},{"x":130,"y":13},{"x":140,"y":27},{"x":150,"y":12},{"x":160,"y":23},{"x":170,"y":11},{"x":180,"y":28},{"x":190,"y":23},{"x":200,"y":38},{"x":210,"y":38},{"x":220,"y":24},{"x":230,"y":36},{"x":240,"y":22},{"x":250,"y":44},{"x":260,"y":35},{"x":270,"y":53},{"x":280,"y":33},{"x":290,"y":46},{"x":300,"y":43},{"x":310,"y":64},{"x":320,"y":45},{"x":330,"y":72},{"x":340,"y":74},{"x":350,"y":105},{"x":360,"y":106},{"x":370,"y":138},{"x":380,"y":142},{"x":390,"y":178},{"x":400,"y":178},{"x":410,"y":201},{"x":420,"y":198},{"x":430,"y":170},{"x":440,"y":170},{"x":450,"y":136},{"x":460,"y":147},{"x":470,"y":132},{"x":480,"y":166},{"x":490,"y":198},{"x":500,"y":332},{"x":510,"y":510},{"x":520,"y":808},{"x":530,"y":1031},{"x":540,"y":1368},{"x":550,"y":1535},{"x":560,"y":1657},{"x":570,"y":1539},{"x":580,"y":1389},{"x":590,"y":1049},{"x":600,"y":735},{"x":610,"y":418},{"x":620,"y":247},{"x":630,"y":152},{"x":640,"y":98},{"x":650,"y":99},{"x":660,"y":77},{"x":670,"y":97},{"x":680,"y":87},{"x":690,"y":102},{"x":700,"y":70},{"x":710,"y":73},{"x":720,"y":60},{"x":730,"y":70},{"x":740,"y":39},{"x":750,"y":53},{"x":760,"y":42},{"x":770,"y":54},{"x":780,"y":37},{"x":790,"y":49},{"x":800,"y":37},{"x":810,"y":62},{"x":820,"y":64},{"x":830,"y":88},{"x":840,"y":89},{"x":850,"y":63},{"x":860,"y":62},{"x":870,"y":36},{"x":880,"y":48},{"x":890,"y":32},{"x":900,"y":43},{"x":910,"y":19},{"x":920,"y":27},{"x":930,"y":20},{"x":940,"y":36},{"x":950,"y":12},{"x":960,"y":30},{"x":970,"y":22},{"x":980,"y":36},{"x":990,"y":20},{"x":1000,"y":31},{"x":1010,"y":18},{"x":1020,"y":33},{"x":1030,"y":26},{"x":1040,"y":38}],
    "c1": [{"x":0,"y":11},{"x":10,"y":3},{"x":20,"y":11},{"x":30,"y":3},{"x":40,"y":17},{"x":50,"y":11},{"x":60,"y":30},{"x":70,"y":8},{"x":80,"y":15},{"x":90,"y":10},{"x":100,"y":21},{"x":110,"y":4},{"x":120,"y":15},{"x":130,"y":9},{"x":140,"y":17},{"x":150,"y":5},{"x":160,"y":12},{"x":170,"y":5},{"x":180,"y":18},{"x":190,"y":16},{"x":200,"y":29},{"x":210,"y":32},{"x":220,"y":23},{"x":230,"y":37},{"x":240,"y":29},{"x":250,"y":51},{"x":260,"y":62},{"x":270,"y":54},{"x":280,"y":28},{"x":290,"y":30},{"x":300,"y":20},{"x":310,"y":30},{"x":320,"y":11},{"x":330,"y":26},{"x":340,"y":24},{"x":350,"y":43},{"x":360,"y":38},{"x":370,"y":59},{"x":380,"y":54},{"x":390,"y":81},{"x":400,"y":92},{"x":410,"y":89},{"x":420,"y":78},{"x":430,"y":47},{"x":440,"y":44},{"x":450,"y":18},{"x":460,"y":24},{"x":470,"y":13},{"x":480,"y":27},{"x":490,"y":21},{"x":500,"y":43},{"x":510,"y":50},{"x":520,"y":77},{"x":530,"y":108},{"x":540,"y":72},{"x":550,"y":56},{"x":560,"y":59},{"x":570,"y":31},{"x":580,"y":30},{"x":590,"y":13},{"x":600,"y":23},{"x":610,"y":17},{"x":620,"y":29},{"x":630,"y":32},{"x":640,"y":24},{"x":650,"y":37},{"x":660,"y":28},{"x":670,"y":47},{"x":680,"y":38},{"x":690,"y":57},{"x":700,"y":26},{"x":710,"y":31},{"x":720,"y":23},{"x":730,"y":34},{"x":740,"y":14},{"x":750,"y":27},{"x":760,"y":19},{"x":770,"y":27},{"x":780,"y":13},{"x":790,"y":20},{"x":800,"y":10},{"x":810,"y":21},{"x":820,"y":14},{"x":830,"y":22},{"x":840,"y":20},{"x":850,"y":8},{"x":860,"y":14},{"x":870,"y":3},{"x":880,"y":14},{"x":890,"y":6},{"x":900,"y":15},{"x":910,"y":1},{"x":920,"y":7},{"x":930,"y":2},{"x":940,"y":12},{"x":950,"y":0},{"x":960,"y":7},{"x":970,"y":2},{"x":980,"y":8},{"x":990,"y":0},{"x":1000,"y":5},{"x":1010,"y":0},{"x":1020,"y":7},{"x":1030,"y":2},{"x":1040,"y":10}],
    "c2": [{"x":0,"y":15},{"x":10,"y":8},{"x":20,"y":13},{"x":30,"y":6},{"x":40,"y":16},{"x":50,"y":12},{"x":60,"y":20},{"x":70,"y":9},{"x":80,"y":15},{"x":90,"y":12},{"x":100,"y":21},{"x":110,"y":9},{"x":120,"y":20},{"x":130,"y":16},{"x":140,"y":24},{"x":150,"y":16},{"x":160,"y":22},{"x":170,"y":16},{"x":180,"y":27},{"x":190,"y":23},{"x":200,"y":32},{"x":210,"y":32},{"x":220,"y":24},{"x":230,"y":32},{"x":240,"y":25},{"x":250,"y":38},{"x":260,"y":32},{"x":270,"y":43},{"x":280,"y":30},{"x":290,"y":39},{"x":300,"y":42},{"x":310,"y":66},{"x":320,"y":65},{"x":330,"y":99},{"x":340,"y":114},{"x":350,"y":151},{"x":360,"y":156},{"x":370,"y":191},{"x":380,"y":192},{"x":390,"y":222},{"x":400,"y":213},{"x":410,"y":240},{"x":420,"y":194},{"x":430,"y":143},{"x":440,"y":119},{"x":450,"y":73},{"x":460,"y":65},{"x":470,"y":52},{"x":480,"y":71},{"x":490,"y":83},{"x":500,"y":141},{"x":510,"y":194},{"x":520,"y":284},{"x":530,"y":289},{"x":540,"y":368},{"x":550,"y":313},{"x":560,"y":299},{"x":570,"y":220},{"x":580,"y":163},{"x":590,"y":91},{"x":600,"y":65},{"x":610,"y":45},{"x":620,"y":56},{"x":630,"y":69},{"x":640,"y":80},{"x":650,"y":108},{"x":660,"y":109},{"x":670,"y":165},{"x":680,"y":123},{"x":690,"y":127},{"x":700,"y":90},{"x":710,"y":81},{"x":720,"y":60},{"x":730,"y":60},{"x":740,"y":36},{"x":750,"y":41},{"x":760,"y":32},{"x":770,"y":35},{"x":780,"y":23},{"x":790,"y":27},{"x":800,"y":17},{"x":810,"y":25},{"x":820,"y":18},{"x":830,"y":24},{"x":840,"y":21},{"x":850,"y":12},{"x":860,"y":16},{"x":870,"y":7},{"x":880,"y":16},{"x":890,"y":10},{"x":900,"y":17},{"x":910,"y":5},{"x":920,"y":9},{"x":930,"y":5},{"x":940,"y":12},{"x":950,"y":0},{"x":960,"y":8},{"x":970,"y":3},{"x":980,"y":8},{"x":990,"y":0},{"x":1000,"y":5},{"x":1010,"y":0},{"x":1020,"y":6},{"x":1030,"y":2},{"x":1040,"y":9}],
    "c3": [{"x":0,"y":27},{"x":10,"y":16},{"x":20,"y":23},{"x":30,"y":12},{"x":40,"y":26},{"x":50,"y":19},{"x":60,"y":31},{"x":70,"y":16},{"x":80,"y":24},{"x":90,"y":20},{"x":100,"y":32},{"x":110,"y":16},{"x":120,"y":30},{"x":130,"y":24},{"x":140,"y":34},{"x":150,"y":25},{"x":160,"y":34},{"x":170,"y":27},{"x":180,"y":42},{"x":190,"y":39},{"x":200,"y":51},{"x":210,"y":52},{"x":220,"y":41},{"x":230,"y":51},{"x":240,"y":41},{"x":250,"y":58},{"x":260,"y":53},{"x":270,"y":68},{"x":280,"y":55},{"x":290,"y":67},{"x":300,"y":66},{"x":310,"y":88},{"x":320,"y":77},{"x":330,"y":105},{"x":340,"y":114},{"x":350,"y":149},{"x":360,"y":162},{"x":370,"y":208},{"x":380,"y":227},{"x":390,"y":277},{"x":400,"y":278},{"x":410,"y":292},{"x":420,"y":263},{"x":430,"y":193},{"x":440,"y":144},{"x":450,"y":85},{"x":460,"y":81},{"x":470,"y":83},{"x":480,"y":163},{"x":490,"y":209},{"x":500,"y":382},{"x":510,"y":569},{"x":520,"y":740},{"x":530,"y":700},{"x":540,"y":703},{"x":550,"y":572},{"x":560,"y":436},{"x":570,"y":250},{"x":580,"y":153},{"x":590,"y":86},{"x":600,"y":85},{"x":610,"y":81},{"x":620,"y":106},{"x":630,"y":120},{"x":640,"y":114},{"x":650,"y":129},{"x":660,"y":117},{"x":670,"y":138},{"x":680,"y":128},{"x":690,"y":137},{"x":700,"y":107},{"x":710,"y":104},{"x":720,"y":88},{"x":730,"y":92},{"x":740,"y":63},{"x":750,"y":72},{"x":760,"y":59},{"x":770,"y":64},{"x":780,"y":47},{"x":790,"y":52},{"x":800,"y":39},{"x":810,"y":49},{"x":820,"y":40},{"x":830,"y":47},{"x":840,"y":42},{"x":850,"y":27},{"x":860,"y":33},{"x":870,"y":20},{"x":880,"y":31},{"x":890,"y":22},{"x":900,"y":31},{"x":910,"y":14},{"x":920,"y":19},{"x":930,"y":14},{"x":940,"y":23},{"x":950,"y":6},{"x":960,"y":16},{"x":970,"y":10},{"x":980,"y":17},{"x":990,"y":5},{"x":1000,"y":12},{"x":1010,"y":2},{"x":1020,"y":13},{"x":1030,"y":7},{"x":1040,"y":16}],
    "c4": [{"x":0,"y":28},{"x":10,"y":15},{"x":20,"y":23},{"x":30,"y":12},{"x":40,"y":27},{"x":50,"y":20},{"x":60,"y":33},{"x":70,"y":16},{"x":80,"y":25},{"x":90,"y":21},{"x":100,"y":36},{"x":110,"y":16},{"x":120,"y":32},{"x":130,"y":27},{"x":140,"y":40},{"x":150,"y":28},{"x":160,"y":38},{"x":170,"y":29},{"x":180,"y":47},{"x":190,"y":43},{"x":200,"y":58},{"x":210,"y":59},{"x":220,"y":47},{"x":230,"y":59},{"x":240,"y":49},{"x":250,"y":69},{"x":260,"y":62},{"x":270,"y":78},{"x":280,"y":60},{"x":290,"y":71},{"x":300,"y":67},{"x":310,"y":85},{"x":320,"y":64},{"x":330,"y":83},{"x":340,"y":77},{"x":350,"y":94},{"x":360,"y":83},{"x":370,"y":100},{"x":380,"y":100},{"x":390,"y":147},{"x":400,"y":179},{"x":410,"y":219},{"x":420,"y":222},{"x":430,"y":188},{"x":440,"y":169},{"x":450,"y":128},{"x":460,"y":138},{"x":470,"y":147},{"x":480,"y":246},{"x":490,"y":288},{"x":500,"y":482},{"x":510,"y":709},{"x":520,"y":1011},{"x":530,"y":1141},{"x":540,"y":1267},{"x":550,"y":1148},{"x":560,"y":974},{"x":570,"y":664},{"x":580,"y":434},{"x":590,"y":237},{"x":600,"y":172},{"x":610,"y":139},{"x":620,"y":145},{"x":630,"y":137},{"x":640,"y":117},{"x":650,"y":126},{"x":660,"y":108},{"x":670,"y":125},{"x":680,"y":111},{"x":690,"y":123},{"x":700,"y":97},{"x":710,"y":103},{"x":720,"y":93},{"x":730,"y":105},{"x":740,"y":78},{"x":750,"y":91},{"x":760,"y":78},{"x":770,"y":86},{"x":780,"y":67},{"x":790,"y":72},{"x":800,"y":57},{"x":810,"y":68},{"x":820,"y":57},{"x":830,"y":65},{"x":840,"y":59},{"x":850,"y":40},{"x":860,"y":45},{"x":870,"y":28},{"x":880,"y":41},{"x":890,"y":28},{"x":900,"y":38},{"x":910,"y":17},{"x":920,"y":22},{"x":930,"y":14},{"x":940,"y":25},{"x":950,"y":4},{"x":960,"y":16},{"x":970,"y":8},{"x":980,"y":17},{"x":990,"y":3},{"x":1000,"y":10},{"x":1010,"y":0},{"x":1020,"y":13},{"x":1030,"y":7},{"x":1040,"y":18}],
    "d1": [{"x":0,"y":8},{"x":10,"y":3},{"x":20,"y":7},{"x":30,"y":2},{"x":40,"y":10},{"x":50,"y":7},{"x":60,"y":14},{"x":70,"y":7},{"x":80,"y":19},{"x":90,"y":9},{"x":100,"y":14},{"x":110,"y":4},{"x":120,"y":10},{"x":130,"y":6},{"x":140,"y":9},{"x":150,"y":4},{"x":160,"y":7},{"x":170,"y":4},{"x":180,"y":11},{"x":190,"y":11},{"x":200,"y":18},{"x":210,"y":20},{"x":220,"y":13},{"x":230,"y":19},{"x":240,"y":12},{"x":250,"y":28},{"x":260,"y":15},{"x":270,"y":20},{"x":280,"y":8},{"x":290,"y":8},{"x":300,"y":4},{"x":310,"y":9},{"x":320,"y":2},{"x":330,"y":10},{"x":340,"y":10},{"x":350,"y":19},{"x":360,"y":15},{"x":370,"y":23},{"x":380,"y":19},{"x":390,"y":30},{"x":400,"y":46},{"x":410,"y":32},{"x":420,"y":28},{"x":430,"y":15},{"x":440,"y":15},{"x":450,"y":5},{"x":460,"y":9},{"x":470,"y":4},{"x":480,"y":11},{"x":490,"y":8},{"x":500,"y":17},{"x":510,"y":18},{"x":520,"y":33},{"x":530,"y":22},{"x":540,"y":36},{"x":550,"y":45},{"x":560,"y":38},{"x":570,"y":23},{"x":580,"y":23},{"x":590,"y":11},{"x":600,"y":14},{"x":610,"y":8},{"x":620,"y":10},{"x":630,"y":9},{"x":640,"y":7},{"x":650,"y":16},{"x":660,"y":14},{"x":670,"y":31},{"x":680,"y":29},{"x":690,"y":43},{"x":700,"y":29},{"x":710,"y":51},{"x":720,"y":29},{"x":730,"y":36},{"x":740,"y":17},{"x":750,"y":22},{"x":760,"y":12},{"x":770,"y":13},{"x":780,"y":5},{"x":790,"y":9},{"x":800,"y":6},{"x":810,"y":17},{"x":820,"y":16},{"x":830,"y":27},{"x":840,"y":30},{"x":850,"y":21},{"x":860,"y":38},{"x":870,"y":17},{"x":880,"y":23},{"x":890,"y":14},{"x":900,"y":16},{"x":910,"y":5},{"x":920,"y":6},{"x":930,"y":3},{"x":940,"y":7},{"x":950,"y":1},{"x":960,"y":6},{"x":970,"y":4},{"x":980,"y":9},{"x":990,"y":4},{"x":1000,"y":9},{"x":1010,"y":4},{"x":1020,"y":10},{"x":1030,"y":7},{"x":1040,"y":11}],
    "d2": [{"x":0,"y":23},{"x":10,"y":16},{"x":20,"y":22},{"x":30,"y":14},{"x":40,"y":25},{"x":50,"y":20},{"x":60,"y":29},{"x":70,"y":17},{"x":80,"y":24},{"x":90,"y":20},{"x":100,"y":30},{"x":110,"y":17},{"x":120,"y":27},{"x":130,"y":23},{"x":140,"y":30},{"x":150,"y":21},{"x":160,"y":27},{"x":170,"y":20},{"x":180,"y":30},{"x":190,"y":26},{"x":200,"y":34},{"x":210,"y":34},{"x":220,"y":24},{"x":230,"y":31},{"x":240,"y":24},{"x":250,"y":35},{"x":260,"y":31},{"x":270,"y":40},{"x":280,"y":29},{"x":290,"y":36},{"x":300,"y":33},{"x":310,"y":45},{"x":320,"y":34},{"x":330,"y":53},{"x":340,"y":60},{"x":350,"y":86},{"x":360,"y":99},{"x":370,"y":137},{"x":380,"y":156},{"x":390,"y":197},{"x":400,"y":199},{"x":410,"y":208},{"x":420,"y":185},{"x":430,"y":134},{"x":440,"y":103},{"x":450,"y":60},{"x":460,"y":57},{"x":470,"y":48},{"x":480,"y":71},{"x":490,"y":88},{"x":500,"y":151},{"x":510,"y":214},{"x":520,"y":316},{"x":530,"y":349},{"x":540,"y":424},{"x":550,"y":450},{"x":560,"y":405},{"x":570,"y":309},{"x":580,"y":233},{"x":590,"y":136},{"x":600,"y":95},{"x":610,"y":64},{"x":620,"y":70},{"x":630,"y":87},{"x":640,"y":115},{"x":650,"y":174},{"x":660,"y":202},{"x":670,"y":249},{"x":680,"y":247},{"x":690,"y":290},{"x":700,"y":224},{"x":710,"y":206},{"x":720,"y":155},{"x":730,"y":135},{"x":740,"y":76},{"x":750,"y":60},{"x":760,"y":30},{"x":770,"y":33},{"x":780,"y":23},{"x":790,"y":27},{"x":800,"y":20},{"x":810,"y":29},{"x":820,"y":24},{"x":830,"y":31},{"x":840,"y":30},{"x":850,"y":20},{"x":860,"y":25},{"x":870,"y":16},{"x":880,"y":26},{"x":890,"y":21},{"x":900,"y":28},{"x":910,"y":16},{"x":920,"y":22},{"x":930,"y":18},{"x":940,"y":58},{"x":950,"y":15},{"x":960,"y":25},{"x":970,"y":20},{"x":980,"y":28},{"x":990,"y":19},{"x":1000,"y":24},{"x":1010,"y":18},{"x":1020,"y":28},{"x":1030,"y":23},{"x":1040,"y":31}],
    "d3": [{"x":0,"y":25},{"x":10,"y":15},{"x":20,"y":22},{"x":30,"y":12},{"x":40,"y":25},{"x":50,"y":19},{"x":60,"y":31},{"x":70,"y":16},{"x":80,"y":24},{"x":90,"y":21},{"x":100,"y":33},{"x":110,"y":17},{"x":120,"y":31},{"x":130,"y":25},{"x":140,"y":35},{"x":150,"y":26},{"x":160,"y":35},{"x":170,"y":28},{"x":180,"y":43},{"x":190,"y":40},{"x":200,"y":52},{"x":210,"y":53},{"x":220,"y":41},{"x":230,"y":50},{"x":240,"y":39},{"x":250,"y":55},{"x":260,"y":48},{"x":270,"y":61},{"x":280,"y":45},{"x":290,"y":55},{"x":300,"y":52},{"x":310,"y":69},{"x":320,"y":56},{"x":330,"y":79},{"x":340,"y":85},{"x":350,"y":113},{"x":360,"y":123},{"x":370,"y":161},{"x":380,"y":174},{"x":390,"y":217},{"x":400,"y":220},{"x":410,"y":237},{"x":420,"y":216},{"x":430,"y":163},{"x":440,"y":128},{"x":450,"y":80},{"x":460,"y":81},{"x":470,"y":76},{"x":480,"y":121},{"x":490,"y":180},{"x":500,"y":232},{"x":510,"y":353},{"x":520,"y":521},{"x":530,"y":760},{"x":540,"y":712},{"x":550,"y":691},{"x":560,"y":639},{"x":570,"y":467},{"x":580,"y":324},{"x":590,"y":164},{"x":600,"y":100},{"x":610,"y":59},{"x":620,"y":61},{"x":630,"y":72},{"x":640,"y":95},{"x":650,"y":154},{"x":660,"y":187},{"x":670,"y":241},{"x":680,"y":242},{"x":690,"y":257},{"x":700,"y":212},{"x":710,"y":186},{"x":720,"y":135},{"x":730,"y":110},{"x":740,"y":65},{"x":750,"y":66},{"x":760,"y":52},{"x":770,"y":57},{"x":780,"y":40},{"x":790,"y":45},{"x":800,"y":34},{"x":810,"y":45},{"x":820,"y":39},{"x":830,"y":49},{"x":840,"y":47},{"x":850,"y":35},{"x":860,"y":42},{"x":870,"y":30},{"x":880,"y":41},{"x":890,"y":32},{"x":900,"y":41},{"x":910,"y":24},{"x":920,"y":29},{"x":930,"y":23},{"x":940,"y":32},{"x":950,"y":13},{"x":960,"y":23},{"x":970,"y":16},{"x":980,"y":24},{"x":990,"y":12},{"x":1000,"y":18},{"x":1010,"y":9},{"x":1020,"y":19},{"x":1030,"y":14},{"x":1040,"y":23}],
    "d4": [{"x":0,"y":23},{"x":10,"y":10},{"x":20,"y":18},{"x":30,"y":7},{"x":40,"y":22},{"x":50,"y":15},{"x":60,"y":27},{"x":70,"y":11},{"x":80,"y":19},{"x":90,"y":15},{"x":100,"y":30},{"x":110,"y":11},{"x":120,"y":26},{"x":130,"y":20},{"x":140,"y":31},{"x":150,"y":19},{"x":160,"y":28},{"x":170,"y":19},{"x":180,"y":33},{"x":190,"y":28},{"x":200,"y":40},{"x":210,"y":41},{"x":220,"y":29},{"x":230,"y":39},{"x":240,"y":28},{"x":250,"y":47},{"x":260,"y":40},{"x":270,"y":55},{"x":280,"y":38},{"x":290,"y":49},{"x":300,"y":46},{"x":310,"y":63},{"x":320,"y":45},{"x":330,"y":65},{"x":340,"y":61},{"x":350,"y":78},{"x":360,"y":71},{"x":370,"y":90},{"x":380,"y":90},{"x":390,"y":132},{"x":400,"y":149},{"x":410,"y":178},{"x":420,"y":176},{"x":430,"y":143},{"x":440,"y":134},{"x":450,"y":108},{"x":460,"y":126},{"x":470,"y":127},{"x":480,"y":195},{"x":490,"y":268},{"x":500,"y":422},{"x":510,"y":610},{"x":520,"y":878},{"x":530,"y":1043},{"x":540,"y":1290},{"x":550,"y":1267},{"x":560,"y":1228},{"x":570,"y":979},{"x":580,"y":726},{"x":590,"y":433},{"x":600,"y":268},{"x":610,"y":159},{"x":620,"y":143},{"x":630,"y":139},{"x":640,"y":128},{"x":650,"y":149},{"x":660,"y":135},{"x":670,"y":153},{"x":680,"y":132},{"x":690,"y":133},{"x":700,"y":91},{"x":710,"y":89},{"x":720,"y":73},{"x":730,"y":81},{"x":740,"y":52},{"x":750,"y":65},{"x":760,"y":53},{"x":770,"y":61},{"x":780,"y":43},{"x":790,"y":50},{"x":800,"y":37},{"x":810,"y":50},{"x":820,"y":41},{"x":830,"y":50},{"x":840,"y":47},{"x":850,"y":30},{"x":860,"y":35},{"x":870,"y":19},{"x":880,"y":32},{"x":890,"y":21},{"x":900,"y":31},{"x":910,"y":11},{"x":920,"y":17},{"x":930,"y":11},{"x":940,"y":23},{"x":950,"y":3},{"x":960,"y":17},{"x":970,"y":10},{"x":980,"y":21},{"x":990,"y":9},{"x":1000,"y":18},{"x":1010,"y":9},{"x":1020,"y":23},{"x":1030,"y":17},{"x":1040,"y":28}]
  },
  "config": {
    "view": {"stroke": null},
    "numberFormat": "d",
    "title": {"font": "DejaVu Sans", "fontSize": 15, "fontWeight": "normal", "color": "#000000", "anchor": "middle", "offset": 9},
    "axis": {
      "grid": false,
      "domainColor": "#999999", "domainWidth": 0.8,
      "tickColor": "#999999", "tickWidth": 0.8, "tickSize": -2,
      "labelFont": "Liberation Sans", "labelFontSize": 8.5, "labelColor": "#333333", "labelFlush": false, "labelOverlap": false,
      "titleFont": "Liberation Sans", "titleFontSize": 9.5, "titleFontWeight": "normal", "titleColor": "#333333"
    },
    "axisX": {"labelPadding": 5, "titlePadding": 2},
    "axisY": {"labelPadding": 5.5, "titlePadding": 1.5}
  }
}
